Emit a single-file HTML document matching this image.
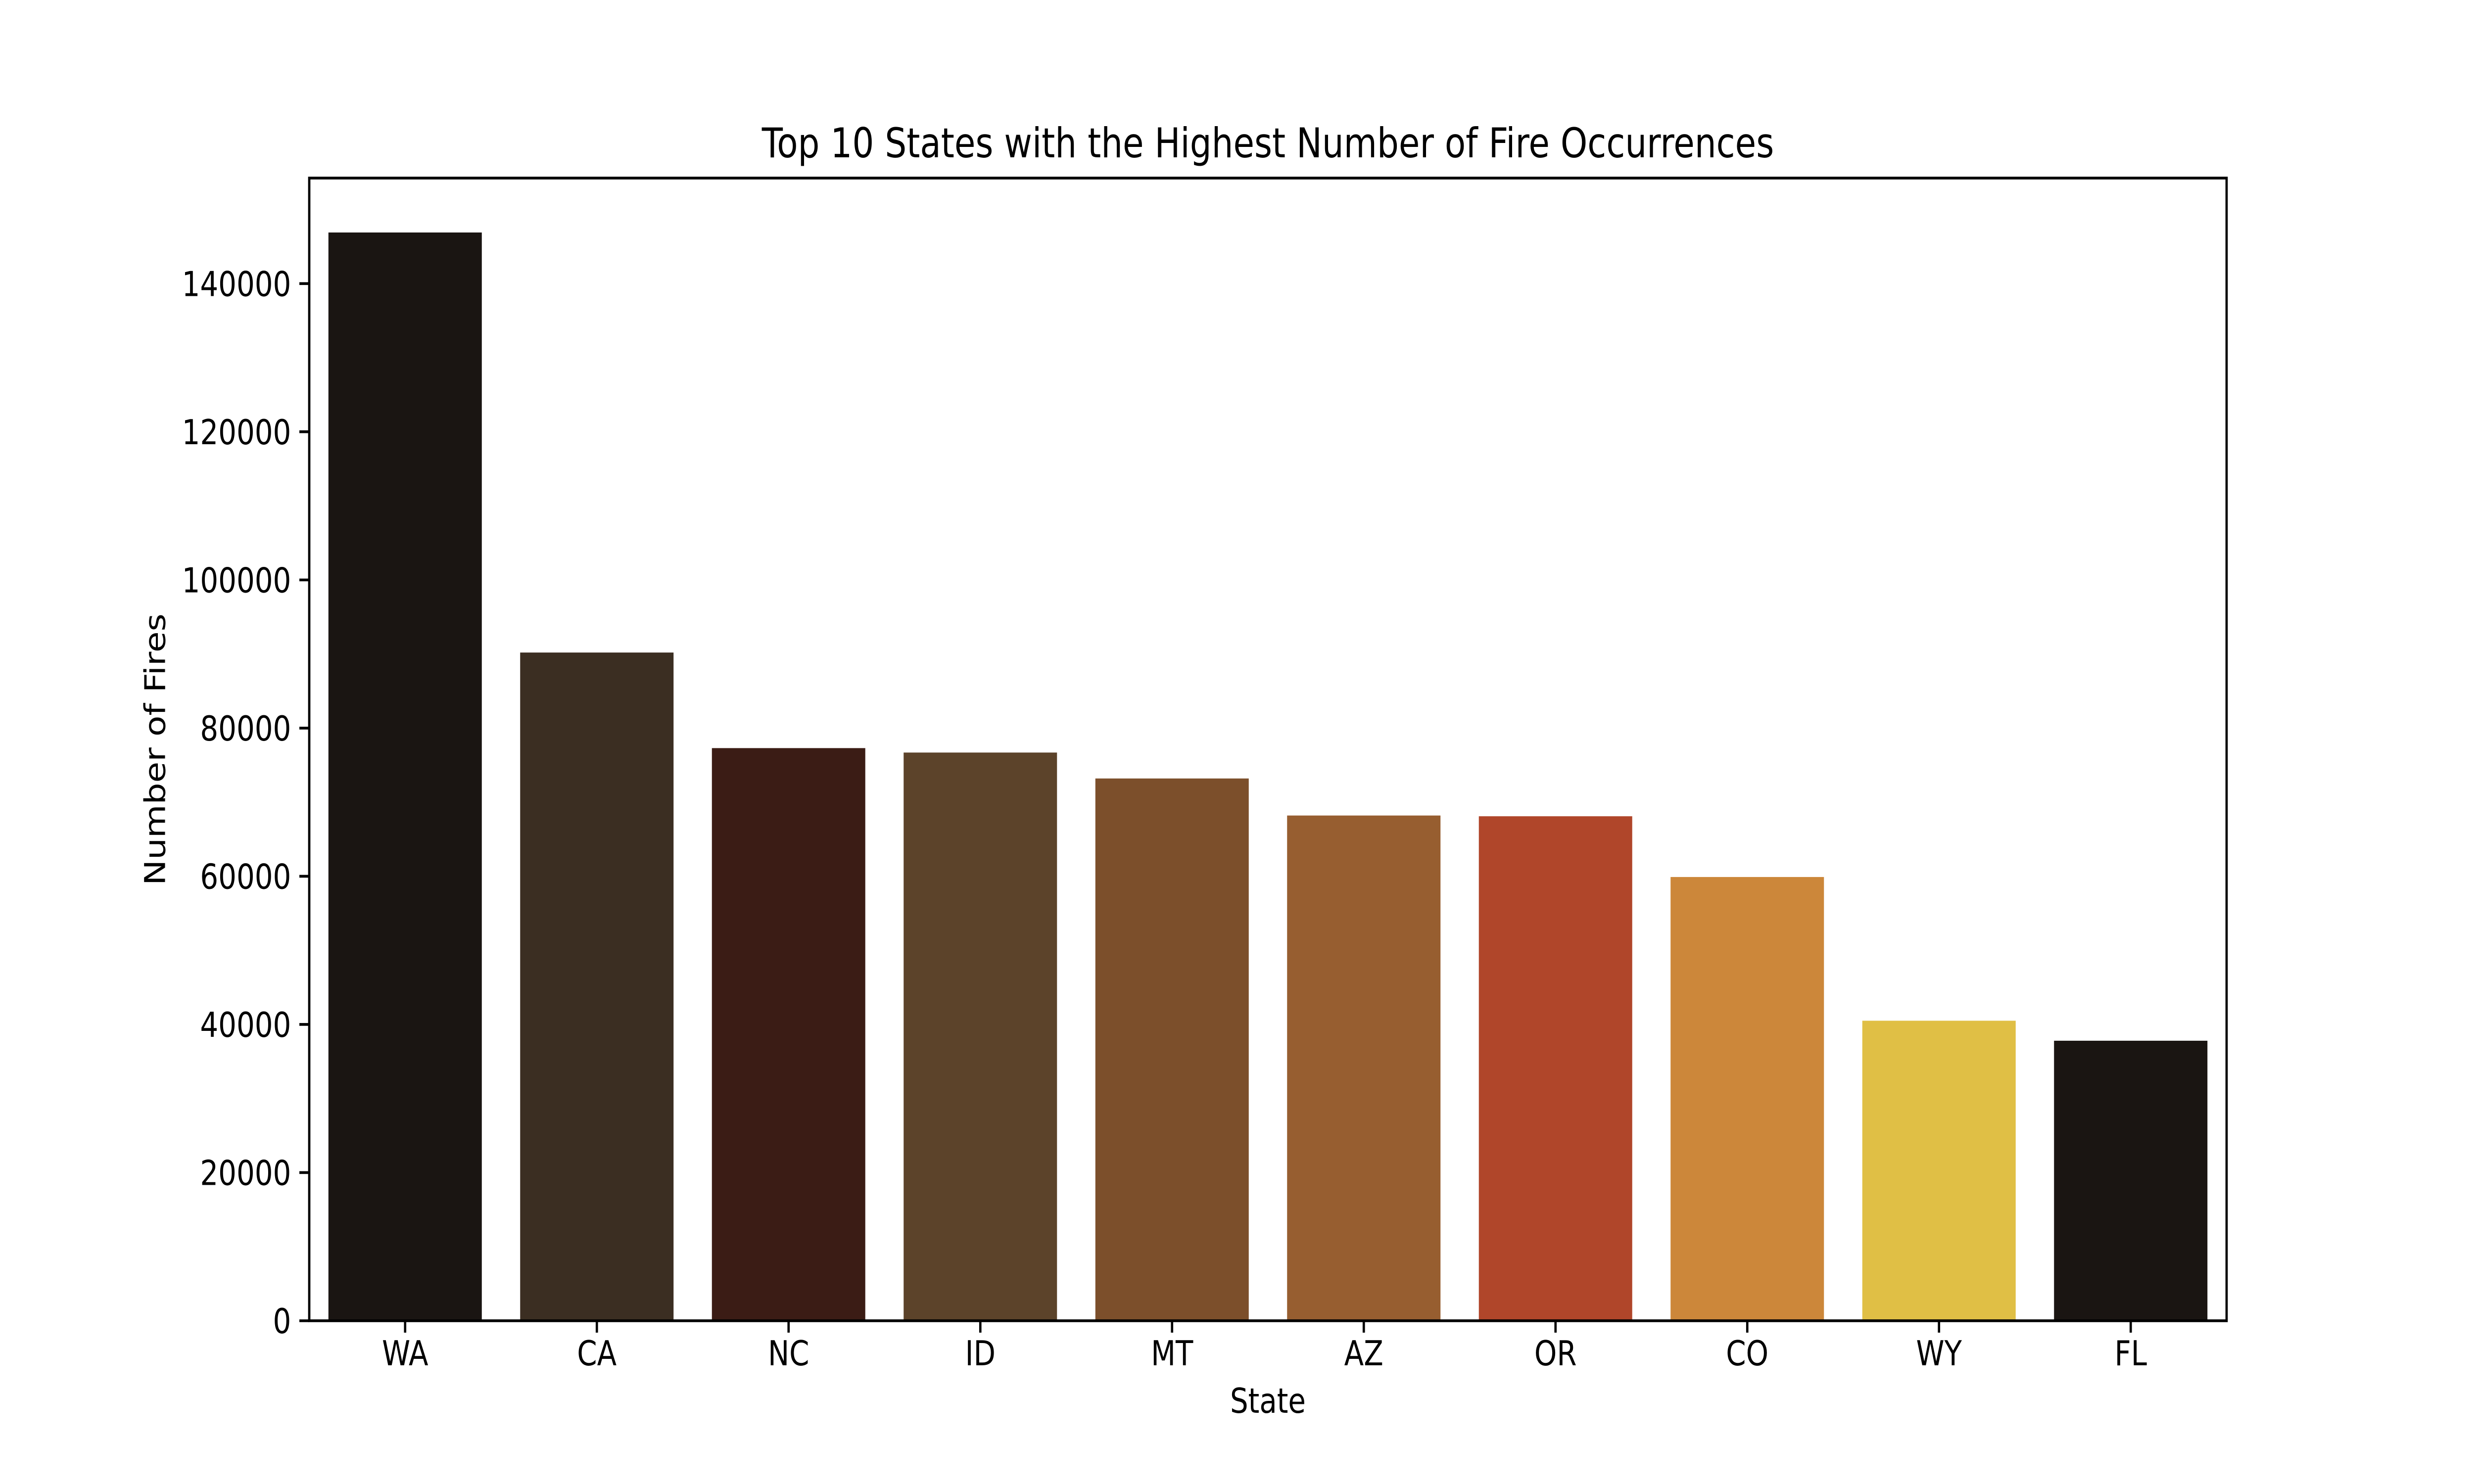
<!DOCTYPE html>
<html><head><meta charset="utf-8"><style>
html,body{margin:0;padding:0;background:#fff;width:100%;height:100%;overflow:hidden;}
svg{display:block;width:100vw;height:100vh;font-family:"DejaVu Sans","Liberation Sans",sans-serif;}
</style></head><body>
<svg id="chart" viewBox="0 0 6000 3000" preserveAspectRatio="none">
<rect width="6000" height="3000" fill="#fff"/>
<g id="bars"></g>
<g id="yticks"></g>
<g id="xticks"></g>
<rect x="750" y="360" width="4650" height="2310" fill="none" stroke="#000" stroke-width="5.6"/>
<text x="3075" y="318" text-anchor="middle" font-size="83">Top 10 States with the Highest Number of Fire Occurrences</text>
<text x="3075" y="2856" text-anchor="middle" font-size="69.4">State</text>
<text transform="translate(400,1515) rotate(-90)" text-anchor="middle" font-size="69.4">Number of Fires</text>
</svg>
<script>
const categories=["WA","CA","NC","ID","MT","AZ","OR","CO","WY","FL"];
const values=[146900,90200,77300,76700,73200,68200,68100,59900,40500,37800];
const colors=["#1a1512","#3b2e22","#3b1c15","#5c432a","#7c4f2b","#975e30","#b0462a","#cc873a","#e0bf45","#1a1512"];
const yTicks=[0,20000,40000,60000,80000,100000,120000,140000];
const NS="http://www.w3.org/2000/svg";
const L=750,R=5400,T=360,B=2670;
const yMax=Math.max(...values)*1.05;
const y=v=>B-(v/yMax)*(B-T);
const step=(R-L)/categories.length;
const x=i=>L+step*(i+0.5);
const bw=step*0.8;
const bars=document.getElementById('bars'),xt=document.getElementById('xticks'),yt=document.getElementById('yticks');
categories.forEach((c,i)=>{
 const r=document.createElementNS(NS,'rect');
 r.setAttribute('x',x(i)-bw/2);r.setAttribute('y',y(values[i]));
 r.setAttribute('width',bw);r.setAttribute('height',B-y(values[i]));
 r.setAttribute('fill',colors[i]);
 
 
 bars.appendChild(r);
 const l=document.createElementNS(NS,'line');
 l.setAttribute('x1',x(i));l.setAttribute('x2',x(i));l.setAttribute('y1',B);l.setAttribute('y2',B+24);
 l.setAttribute('stroke','#000');l.setAttribute('stroke-width','5.6');
 
 
 xt.appendChild(l);
 const t=document.createElementNS(NS,'text');
 t.setAttribute('x',x(i));t.setAttribute('y',B+90);t.setAttribute('text-anchor','middle');t.setAttribute('font-size','69.4');
 t.textContent=c;
 
 
 xt.appendChild(t);
});
yTicks.forEach(v=>{
 const l=document.createElementNS(NS,'line');
 l.setAttribute('x1',L-24);l.setAttribute('x2',L);l.setAttribute('y1',y(v));l.setAttribute('y2',y(v));
 l.setAttribute('stroke','#000');l.setAttribute('stroke-width','5.6');
 
 
 yt.appendChild(l);
 const t=document.createElementNS(NS,'text');
 t.setAttribute('x',L-44);t.setAttribute('y',y(v)+25);t.setAttribute('text-anchor','end');t.setAttribute('font-size','69.4');
 t.textContent=String(v);
 
 
 yt.appendChild(t);
});
</script>
</body></html>
